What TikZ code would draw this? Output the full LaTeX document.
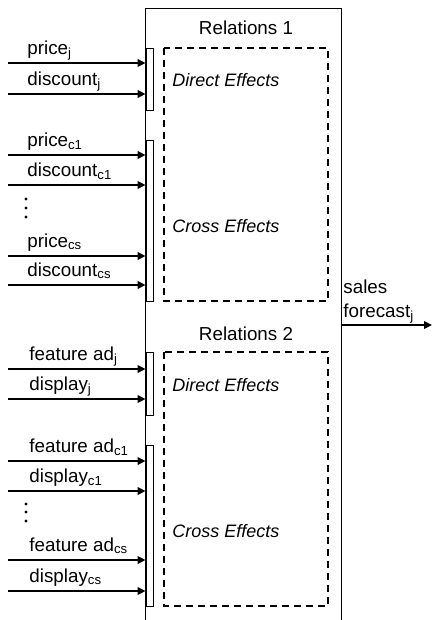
\documentclass[tikz,border=0pt]{standalone}
\usepackage{fontspec}
\setmainfont{Liberation Sans}
\usetikzlibrary{arrows.meta}

\tikzset{
  input/.style={line width=1.1pt, -{Triangle[length=4pt,width=3.8pt]}},
  effbox/.style={line width=1.1pt, dash pattern=on 3.6pt off 2.4pt},
  bar/.style={draw, line width=0.45pt, minimum width=3.5pt, inner sep=0pt},
  txt/.style={anchor=base west, inner sep=0pt},
  efftxt/.style={txt, font=\fontsize{9}{10}\selectfont\itshape},
}

\begin{document}
\begin{tikzpicture}[x=0.5pt,y=-0.5pt,font=\fontsize{9.4}{11}\selectfont]
	\useasboundingbox (0,0) rectangle (433,620);

	% relations block (open at the bottom)
	\coordinate (relTL) at (145,9);
	\coordinate (relTR) at (341,9);
	\draw[line width=0.5pt] (145,620) -- (relTL) -- (relTR) -- (341,620);

	\node[anchor=base, inner sep=0pt] (rel1) at (246,35) {Relations 1};
	\node[anchor=base, inner sep=0pt] (rel2) at (246,340) {Relations 2};

	% effect boxes
	\draw[effbox] (164,48) rectangle (328,301);
	\draw[effbox] (164,352) rectangle (328,606);

	\node[efftxt] (dir1) at (172,87) {Direct Effects};
	\node[efftxt] (cross1) at (172,232) {Cross Effects};
	\node[efftxt] (dir2) at (172,391) {Direct Effects};
	\node[efftxt] (cross2) at (172,537) {Cross Effects};

	% input bars
	\foreach \name/\top/\bot in {barA/48/110, barB/140/301, barC/352/415, barD/445/606}{
	  \node[bar, minimum height={(\bot-\top)*0.5pt}] (\name) at (149.5,{(\top+\bot)/2}) {};
	}

	% inputs
	\foreach \i/\y/\lx/\lab/\bar in {
	    1/63/27/price\textsubscript{j}/barA,
	    2/94/27/discount\textsubscript{j}/barA,
	    3/155/27/price\textsubscript{c1}/barB,
	    4/185/27/discount\textsubscript{c1}/barB,
	    5/256/27/price\textsubscript{cs}/barB,
	    6/285/27/discount\textsubscript{cs}/barB,
	    7/369/29/feature ad\textsubscript{j}/barC,
	    8/399/29/display\textsubscript{j}/barC,
	    9/461/29/feature ad\textsubscript{c1}/barD,
	    10/491/29/display\textsubscript{c1}/barD,
	    11/560/29/feature ad\textsubscript{cs}/barD,
	    12/591/29/display\textsubscript{cs}/barD}{
	  \coordinate (in\i) at (8,\y);
	  \draw[input] (in\i) -- (in\i -| \bar.west);
	  \node[txt] (lab\i) at (\lx,\y-8.5) {\lab};
	}

	% dots
	\foreach \y in {199,208,217,504,512,521}{
	  \fill (26,\y) circle [radius=0.8pt];
	}

	% output
	\coordinate (outA) at (341,325);
	\coordinate (outB) at (432,325);
	\draw[input] (outA) -- (outB);
	\node[txt] (sales) at (343,293) {sales};
	\node[txt] (fcast) at (343,317) {forecast\textsubscript{j}};
\end{tikzpicture}
\end{document}
